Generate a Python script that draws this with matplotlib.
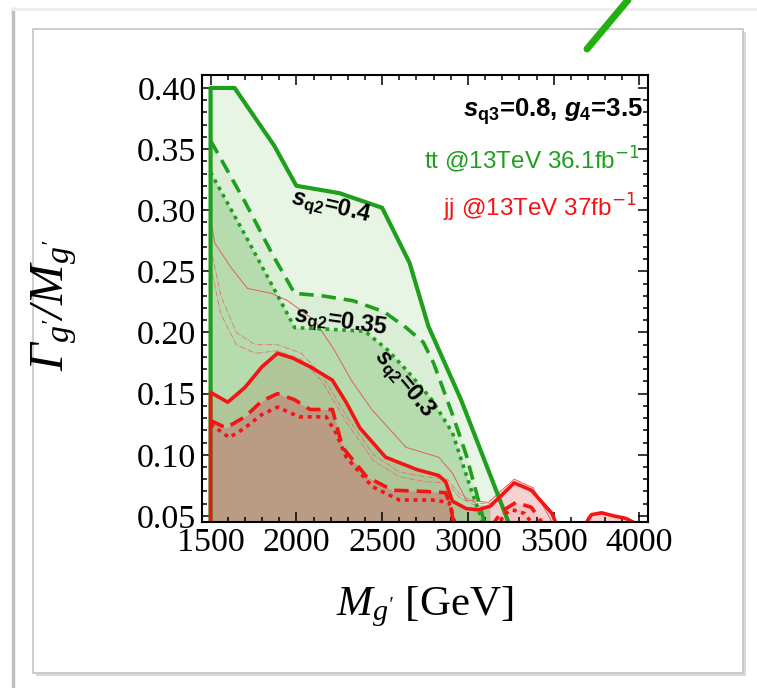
import numpy as np
import matplotlib
matplotlib.use("Agg")
import matplotlib.pyplot as plt
from matplotlib.patches import Rectangle
from matplotlib.lines import Line2D

plt.rcParams['mathtext.fontset'] = 'custom'
plt.rcParams['mathtext.rm'] = 'Liberation Sans:bold'
plt.rcParams['mathtext.it'] = 'Liberation Sans:italic:bold'
# bf slot used for the serif italic axis labels
plt.rcParams['mathtext.bf'] = 'Liberation Serif:italic'

# ---- data (M in GeV, Gamma/M) ----
# tt bound, s_q2 = 0.4 (thick solid green)
m_04 = [1500, 1500, 1640, 1870, 2000, 2250, 2500, 2660, 2770, 2960, 3250]
g_04 = [0.0, 0.400, 0.400, 0.353, 0.320, 0.314, 0.302, 0.257, 0.205, 0.145, 0.040]
# s_q2 = 0.35 (dashed green)
m_035 = [1500, 1700, 1860, 1990, 2150, 2330, 2510, 2640, 2740, 2800, 2910, 2990, 3105]
g_035 = [0.357, 0.307, 0.264, 0.232, 0.230, 0.226, 0.217, 0.204, 0.192, 0.175, 0.133, 0.100, 0.040]
# s_q2 = 0.3 (dotted green)
m_03 = [1500, 1700, 1930, 1990, 2150, 2400, 2530, 2650, 2790, 2910, 3020, 3100]
g_03 = [0.331, 0.280, 0.220, 0.204, 0.203, 0.201, 0.186, 0.168, 0.145, 0.118, 0.071, 0.040]

# jj bound, thick red curves
m_jj = [1500, 1500, 1600, 1700, 1800, 1890, 1980, 2080, 2210, 2290, 2370, 2520, 2700,
        2830, 2870, 2910, 2990, 3060, 3130, 3190, 3270, 3370, 3490, 3525]
g_jj = [0.0, 0.151, 0.143, 0.155, 0.172, 0.183, 0.179, 0.172, 0.161, 0.143, 0.122, 0.098,
        0.088, 0.083, 0.078, 0.062, 0.056, 0.055, 0.058, 0.066, 0.077, 0.071, 0.052, 0.040]
m_jj_b = [3670, 3720, 3780, 3850, 3920, 3990]
g_jj_b = [0.040, 0.051, 0.0525, 0.050, 0.048, 0.043]
m_jj_d = [1500, 1590, 1700, 1800, 1890, 1990, 2080, 2210, 2270, 2410, 2560, 2750, 2870, 2900, 2920]
g_jj_d = [0.128, 0.122, 0.131, 0.144, 0.150, 0.145, 0.137, 0.137, 0.106, 0.082, 0.071,
          0.070, 0.069, 0.058, 0.040]
m_jj_db = [3130, 3200, 3280, 3370, 3455]
g_jj_db = [0.040, 0.054, 0.061, 0.057, 0.040]
m_jj_o = [1500, 1610, 1700, 1800, 1890, 2017, 2174, 2230, 2291, 2442, 2599, 2791, 2889, 2910, 2930]
g_jj_o = [0.125, 0.114, 0.122, 0.133, 0.139, 0.131, 0.131, 0.118, 0.098, 0.074, 0.063,
          0.063, 0.061, 0.052, 0.040]
m_jj_ob = [3160, 3220, 3260, 3330, 3395]
g_jj_ob = [0.040, 0.052, 0.055, 0.052, 0.040]

# thin red curves
m_thin = [1500, 1525, 1620, 1715, 1855, 1950, 2105, 2220, 2320, 2440, 2640, 2830, 2910,
          2990, 3120, 3190, 3270, 3380, 3510]
g_thin = [0.293, 0.273, 0.253, 0.236, 0.232, 0.226, 0.210, 0.186, 0.161, 0.137, 0.106,
          0.098, 0.085, 0.063, 0.061, 0.070, 0.080, 0.073, 0.040]
m_dd = [1500, 1560, 1650, 1760, 1890, 2030, 2150, 2300, 2450, 2600, 2750, 2880, 2950, 3050, 3150]
g_dd1 = [0.270, 0.230, 0.200, 0.190, 0.190, 0.183, 0.165, 0.130, 0.100, 0.086, 0.082,
         0.080, 0.068, 0.060, 0.060]
g_dd2 = [0.255, 0.215, 0.190, 0.183, 0.185, 0.178, 0.160, 0.125, 0.095, 0.082, 0.078,
         0.077, 0.065, 0.058, 0.058]

GREEN = '#1ea01e'
RED = '#f51414'

fig = plt.figure(figsize=(7.57, 6.88), dpi=100)

# slide frame decoration
fig.patches.append(Rectangle((36 / 757, 1 - 676 / 688), 710 / 757, 644 / 688,
                             transform=fig.transFigure, fc='#d9d9d9', ec='none', zorder=-2))
fig.patches.append(Rectangle((33 / 757, 1 - 673 / 688), 710 / 757, 644 / 688,
                             transform=fig.transFigure, fc='white', ec='#c4c4c4', lw=1.2, zorder=-1))
fig.lines.append(Line2D([13 / 757, 13 / 757], [0, 1 - 9 / 688], transform=fig.transFigure,
                        color='#c0c0c0', lw=2.5, zorder=-1))
fig.lines.append(Line2D([13 / 757, 1], [1 - 9 / 688, 1 - 9 / 688], transform=fig.transFigure,
                        color='#eeeeee', lw=2, zorder=-1))
fig.lines.append(Line2D([587 / 757, 628 / 757], [1 - 49 / 688, 1.0], transform=fig.transFigure,
                        color='#22b010', lw=5, solid_capstyle='round', zorder=1))

ax = fig.add_axes([202 / 757, 1 - 522 / 688, 446 / 757, 447 / 688])
ax.set_zorder(2)

# fills
ax.fill_between(m_04, g_04, 0, color='#e8f5e4', lw=0, zorder=1)
ax.fill_between(m_035, g_035, 0, color='#daeed5', lw=0, zorder=1.1)
ax.fill_between(m_03, g_03, 0, color='#b6dbae', lw=0, zorder=1.2)
mj = np.array(m_jj)
ax.fill_between(mj, g_jj, 0, where=mj <= 3130, color='#aec698', lw=0, zorder=1.3)
ax.fill_between(mj, g_jj, 0, where=mj >= 3130, color='#f5c8c8', alpha=0.6, lw=0, zorder=1.3)
mt = np.array(m_thin)
ax.fill_between(mt, g_thin, 0, where=mt >= 3120, color='#f5c8c8', alpha=0.5, lw=0, zorder=1.25)
ax.fill_between(m_jj_b, g_jj_b, 0, color='#f8d0d0', lw=0, zorder=1.3)
ax.fill_between(m_jj_d, g_jj_d, 0, color='#b99c83', lw=0, zorder=1.4)
ax.fill_between(m_jj_db, g_jj_db, 0, color='#f3b8b8', alpha=0.6, lw=0, zorder=1.4)

# thin red lines
ax.plot(m_thin, g_thin, color='#e06060', lw=0.7, zorder=2)
ax.plot(m_dd, g_dd1, color='#e07070', lw=0.6, ls='-.', zorder=2)
ax.plot(m_dd, g_dd2, color='#e07070', lw=0.6, ls='-.', zorder=2)

# green tt curves
ax.plot(m_04, g_04, color=GREEN, lw=3.0, zorder=3)
ax.plot(m_035, g_035, color=GREEN, lw=2.6, ls=(0, (4, 2.2)), zorder=3)
ax.plot(m_03, g_03, color=GREEN, lw=2.6, ls=(0, (1, 1.3)), zorder=3)

# red jj curves
ax.plot(m_jj, g_jj, color=RED, lw=2.6, zorder=4)
ax.plot(m_jj_b, g_jj_b, color=RED, lw=2.6, zorder=4)
ax.plot(m_jj_d, g_jj_d, color=RED, lw=2.6, ls=(0, (4, 2.2)), zorder=4)
ax.plot(m_jj_db, g_jj_db, color=RED, lw=2.6, ls=(0, (4, 2.2)), zorder=4)
ax.plot(m_jj_o, g_jj_o, color=RED, lw=2.6, ls=(0, (1.1, 1.3)), zorder=4)
ax.plot(m_jj_ob, g_jj_ob, color=RED, lw=2.6, ls=(0, (1.1, 1.3)), zorder=4)

ax.set_xlim(1450, 4050)
ax.set_ylim(0.045, 0.4106)
ax.set_xticks([1500, 2000, 2500, 3000, 3500, 4000])
ax.set_xticks(np.arange(1500, 4050, 100), minor=True)
ax.set_yticks([0.05, 0.10, 0.15, 0.20, 0.25, 0.30, 0.35, 0.40])
ax.set_yticks(np.arange(0.05, 0.41, 0.01), minor=True)
ax.set_yticklabels(['0.05', '0.10', '0.15', '0.20', '0.25', '0.30', '0.35', '0.40'])
ax.tick_params(which='both', direction='in', top=True, right=True, width=1.1, color='black')
ax.tick_params(which='major', length=7, labelsize=24.5, pad=4)
ax.tick_params(which='minor', length=3.5)
for lab in ax.get_xticklabels() + ax.get_yticklabels():
    lab.set_fontfamily('Liberation Serif')
for sp in ax.spines.values():
    sp.set_linewidth(1.5)
    sp.set_zorder(6)

ax.set_xlabel(r"$\mathbf{M_{g'}}$ [GeV]", fontsize=31, family='Liberation Serif')
ax.xaxis.set_label_coords(0.5, -0.14)
ax.set_ylabel(r"$\mathbf{\Gamma_{g'}/M_{g'}}$", fontsize=35, family='Liberation Serif')
ax.yaxis.set_label_coords(-0.275, 0.485)

# annotations
ax.text(0.989, 0.917, r'$s_{\mathrm{q3}}$=0.8, $g_{4}$=3.5', transform=ax.transAxes,
        ha='right', va='center', fontsize=18.5, family='Liberation Sans', fontweight='bold',
        zorder=7)
ax.text(0.982, 0.810, r'tt @13TeV 36.1fb$^{-1}$', transform=ax.transAxes, ha='right',
        va='center', fontsize=17.5, family='Liberation Sans', color=GREEN,
        math_fontfamily='dejavusans', zorder=7)
ax.text(0.975, 0.702, r'jj @13TeV 37fb$^{-1}$', transform=ax.transAxes, ha='right',
        va='center', fontsize=17.5, family='Liberation Sans', color=RED,
        math_fontfamily='dejavusans', zorder=7)
ax.text(2200, 0.302, r'$s_{\mathrm{q2}}$=0.4', rotation=-13, ha='center', va='center',
        fontsize=17, family='Liberation Sans', fontweight='bold', zorder=7)
ax.text(2255, 0.208, r'$s_{\mathrm{q2}}$=0.35', rotation=-8, ha='center', va='center',
        fontsize=17, family='Liberation Sans', fontweight='bold', zorder=7)
ax.text(2625, 0.158, r'$s_{\mathrm{q2}}$=0.3', rotation=-50, ha='center', va='center',
        fontsize=17, family='Liberation Sans', fontweight='bold', zorder=7)

fig.savefig('out.png', dpi=100)
